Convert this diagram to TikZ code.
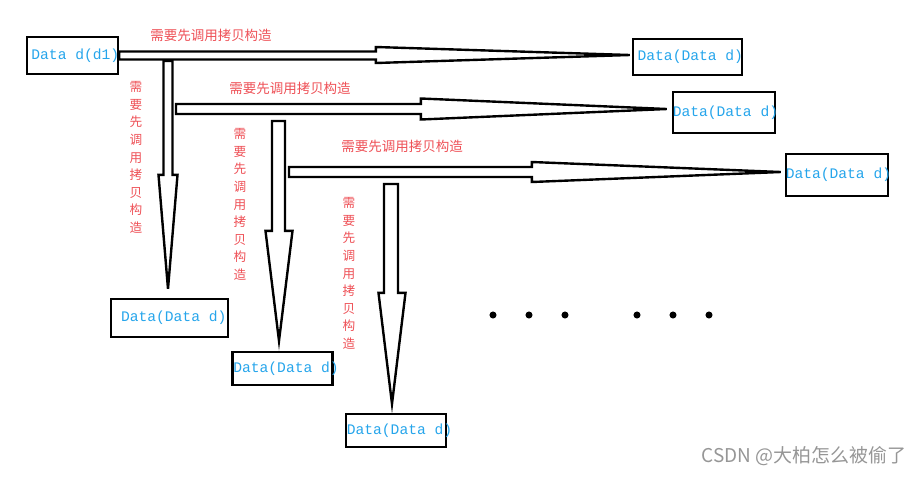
\documentclass[tikz,border=0pt]{standalone}
\usepackage{fontspec}
\usepackage{xcolor}
\usepackage{tikz}
\usetikzlibrary{calc,positioning}
\setmonofont{Liberation Mono}
\newfontfamily\cjk{Noto Sans CJK SC}
\definecolor{dblue}{RGB}{38,165,235}
\definecolor{lred}{RGB}{238,80,86}
\definecolor{wgray}{RGB}{150,150,150}

\tikzset{
  databox/.style 2 args={draw, line width=1.6pt, minimum width=#1*0.025cm, minimum height=#2*0.025cm, inner sep=0pt, text=dblue, font=\ttfamily\fontsize{10.4}{12}\selectfont},
  hollow/.style={draw, line width=1.7pt},
  hlabel/.style={text=lred, font=\cjk\fontsize{9.6}{11}\selectfont, inner sep=0pt},
  vlabel/.style={text=lred, align=center, font=\cjk\fontsize{9}{12.5}\selectfont, inner sep=0pt},
}

% big hollow arrows: start, tip, shaft half width, head length, head half width
\newcommand{\harrow}[5]{%
  \draw[hollow] ($(#1)+(0,-#3)$) -- ($(#1)+(0,#3)$) -| ($(#2)+(-#4,#5)$) -- (#2) -- ($(#2)+(-#4,-#5)$) |- ($(#1)+(0,-#3)$) -- cycle;}
\newcommand{\varrow}[5]{%
  \draw[hollow] ($(#1)+(#3,0)$) -- ($(#1)+(-#3,0)$) |- ($(#2)+(-#5,-#4)$) -- (#2) -- ($(#2)+(#5,-#4)$) -| ($(#1)+(#3,0)$) -- cycle;}

\begin{document}
\begin{tikzpicture}[x=0.025cm, y=-0.025cm]
    \useasboundingbox (0,0) rectangle (922,476);

    % boxes
    \node[databox={91}{37}] (src) at (72.5,55.5) {\makebox[0pt]{\hspace{4pt}Data d(d1)}};
    \node[databox={109}{36}] (r1) at (687.5,57) {\makebox[0pt]{\hspace{4pt}Data(Data d)}};
    \node[databox={102}{41}] (r2) at (724,112.5) {\makebox[0pt]{\hspace{2pt}Data(Data d)}};
    \node[databox={102}{42}] (r3) at (837,175) {\makebox[0pt]{\hspace{2pt}Data(Data d)}};
    \node[databox={117}{38}] (d1) at (169.5,318) {\makebox[0pt]{\hspace{6pt}Data(Data d)}};
    \node[databox={100}{33}] (d2) at (282.5,368.5) {\makebox[0pt]{\hspace{5pt}Data(Data d)}};
    \node[databox={100}{33}] (d3) at (396,430.5) {\makebox[0pt]{\hspace{5pt}Data(Data d)}};

    % arrow ends
    \coordinate (h2s) at (176,109);
    \coordinate (h3s) at (289,172);
    \coordinate (v1s) at (168,61);
    \coordinate (v2s) at (278.5,121);
    \coordinate (v3s) at (391,184);
    \coordinate (h1t) at ($(r1.west)+(-2,-2)$);
    \coordinate (h2t) at ($(r2.west)+(-5,-3.5)$);
    \coordinate (h3t) at ($(r3.west)+(-4,-3)$);
    \coordinate (v1t) at ($(d1.north)+(-1.5,-9)$);
    \coordinate (v2t) at ($(d2.north)+(-3.5,-10)$);
    \coordinate (v3t) at ($(d3.north)+(-4,-9)$);

    \harrow{src.east}{h1t}{4}{254}{8}
    \harrow{h2s}{h2t}{5}{246}{10.5}
    \harrow{h3s}{h3t}{5}{249}{10}
    \varrow{v1s}{v1t}{4.5}{114}{9.5}
    \varrow{v2s}{v2t}{6.5}{110}{13.5}
    \varrow{v3s}{v3t}{7}{111}{13.5}

    % labels
    \node[hlabel] (l1) at (211,35) {需要先调用拷贝构造};
    \node[hlabel] (l2) at (290,88) {需要先调用拷贝构造};
    \node[hlabel] (l3) at (402,146) {需要先调用拷贝构造};
    \node[vlabel] (m1) at (136,157.5) {需\\要\\先\\调\\用\\拷\\贝\\构\\造};
    \node[vlabel] (m2) at (240,204.5) {需\\要\\先\\调\\用\\拷\\贝\\构\\造};
    \node[vlabel] (m3) at (349,273.5) {需\\要\\先\\调\\用\\拷\\贝\\构\\造};

    % dots
    \foreach \dx in {493,529,565,637,673,709}
        \fill (\dx,315) circle (2.5pt);

    \node[text=wgray, font=\cjk\fontsize{13.5}{15}\selectfont] (mark) at (804,456) {CSDN @大柏怎么被偷了};
\end{tikzpicture}
\end{document}
